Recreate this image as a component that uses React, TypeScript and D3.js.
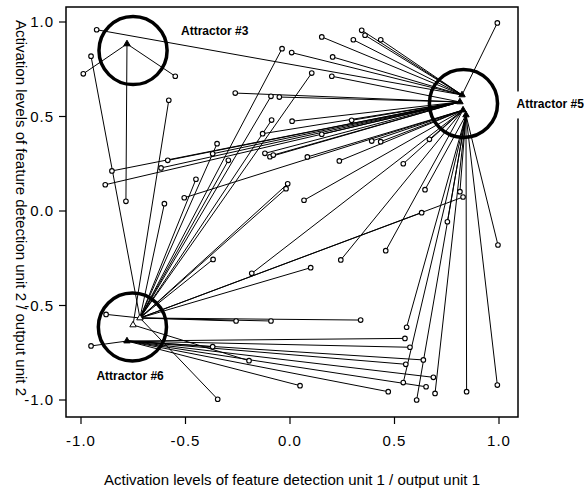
import React from "react";
import * as d3 from "d3";

// endpoints reached by the trajectories (data units)
const endpointNames = ["E3", "E5a", "E5b", "E5c", "E5d", "E6a", "E6b", "E6c"];
const endpointX = [-0.78, 0.823, 0.813, 0.828, 0.842, -0.78, -0.751, -0.718];
const endpointY = [0.884, 0.614, 0.577, 0.534, 0.508, -0.688, -0.603, -0.566];
const endpointFilled = [true, true, true, true, true, true, false, false];

// starting points of the trajectories and the endpoint each one settles on
const startX = [
  -0.989, -0.549, -0.785,
  -0.925, 0.008, 0.152, 0.303, 0.343, 0.359, 0.434, 0.204, 0.992,
  -0.262, -0.051, 0.2, 0.01, 0.295, -0.131, 0.152, -0.37, -0.12, -0.096, -0.08,
  0.083, -0.585, -0.617, -0.852, -0.884, -0.506, 0.067, 0.391, 0.434, 0.236,
  0.542, 0.667, -0.183, 0.243, 0.458, 0.646, 0.813, 0.753, 0.995, 0.558,
  0.542, 0.606, 0.694, 0.845, 0.992,
  -0.952, -0.58, -0.601, -0.038, 0.104, -0.091, -0.088, -0.349, -0.295, -0.45,
  -0.011, -0.019, -0.368, 0.828, 0.63, 0.099,
  -0.258, -0.091, 0.338, 0.55, 0.574, 0.638, 0.554, 0.686, 0.651, 0.47, 0.048,
  -0.196, -0.346, -0.37, -0.88, -0.952,
];
const startY = [
  0.726, 0.713, 0.051,
  0.959, 0.838, 0.921, 0.906, 0.956, 0.93, 0.906, 0.815, 0.995,
  0.624, 0.603, 0.713, 0.475, 0.48, 0.409, 0.406, 0.303, 0.305, 0.287, 0.296,
  0.286, 0.268, 0.228, 0.212, 0.139, 0.07, 0.057, 0.37, 0.367, 0.265,
  0.25, 0.379, -0.33, -0.259, -0.21, 0.113, 0.102, -0.057, -0.18, -0.615,
  -0.908, -1.0, -0.965, -0.956, -0.921,
  0.819, 0.586, 0.039, 0.859, 0.73, 0.607, 0.481, 0.356, 0.268, 0.168,
  0.144, 0.118, -0.256, 0.074, -0.009, -0.3,
  -0.582, -0.582, -0.577, -0.674, -0.721, -0.788, -0.811, -0.88, -0.93, -0.956, -0.924,
  -0.792, -0.996, -0.718, -0.547, -0.714,
];
const startEnd = [
  0, 0, 0,
  1, 1, 1, 1, 1, 1, 1, 1, 1,
  2, 2, 2, 2, 2, 2, 2, 2, 2, 2, 2,
  3, 2, 2, 2, 2, 3, 3, 3, 3, 3,
  3, 3, 3, 3, 3, 4, 4, 4, 4, 4,
  4, 4, 4, 4, 4,
  7, 6, 7, 7, 7, 7, 7, 7, 7, 7,
  7, 7, 7, 7, 7, 7,
  7, 7, 7, 5, 5, 5, 5, 5, 5, 5, 5,
  6, 7, 5, 7, 5,
];

const attractorLabels = ["Attractor #3", "Attractor #5", "Attractor #6"];
const attractorX = [-0.751, 0.83, -0.754];
const attractorY = [0.849, 0.569, -0.614];
const attractorRadius = 0.163;

const ticks = [-1.0, -0.5, 0.0, 0.5, 1.0];
const xTitle = "Activation levels of feature detection unit 1 / output unit 1";
const yTitle = "Activation levels of feature detection unit 2 / output unit 2";

const W = 584;
const H = 491;
const frame = { left: 66, top: 7, right: 518, bottom: 417 };
const labelOffsets = [
  [48, -16],
  [53, 5],
  [-36, 53],
];

export default function App() {
  const x = d3.scaleLinear().domain([-1, 1]).range([81, 499]);
  const y = d3.scaleLinear().domain([-1, 1]).range([400, 22]);
  const tri = d3.symbol().type(d3.symbolTriangle).size(18)() as string;
  const font = "'Liberation Sans', Arial, Helvetica, sans-serif";

  return (
    <svg
      width={W}
      height={H}
      style={{ position: "absolute", left: 0, top: 0, background: "#fff" }}
      fontFamily={font}
    >
      <rect x={0} y={0} width={W} height={H} fill="#fff" />
      {/* trajectories */}
      <g stroke="#000" strokeWidth={1} fill="none">
        {startX.map((sx, i) => (
          <line
            key={i}
            x1={x(sx)}
            y1={y(startY[i])}
            x2={x(endpointX[startEnd[i]])}
            y2={y(endpointY[startEnd[i]])}
          />
        ))}
      </g>
      {/* attractor basins */}
      <g stroke="#000" strokeWidth={3.5} fill="none">
        {attractorX.map((ax, i) => (
          <circle
            key={i}
            cx={x(ax)}
            cy={y(attractorY[i])}
            r={x(attractorRadius) - x(0)}
          />
        ))}
      </g>
      {/* end markers */}
      <g stroke="#000" strokeWidth={1}>
        {endpointNames.map((name, k) => (
          <path
            key={name}
            d={tri}
            fill={endpointFilled[k] ? "#000" : "#fff"}
            transform={`translate(${x(endpointX[k])},${y(endpointY[k])})`}
          />
        ))}
      </g>
      {/* start markers */}
      <g stroke="#000" strokeWidth={1.1} fill="#fff">
        {startX.map((sx, i) => (
          <circle key={i} cx={x(sx)} cy={y(startY[i])} r={2.3} />
        ))}
      </g>
      {/* frame */}
      <rect
        x={frame.left}
        y={frame.top}
        width={frame.right - frame.left}
        height={frame.bottom - frame.top}
        fill="none"
        stroke="#000"
        strokeWidth={1.5}
      />
      {/* x axis */}
      {ticks.map((t) => (
        <g key={"x" + t}>
          <line x1={x(t)} x2={x(t)} y1={frame.bottom} y2={frame.bottom + 7} stroke="#000" strokeWidth={1.2} />
          <text x={x(t)} y={446} textAnchor="middle" fontSize={15} letterSpacing={1}>
            {t.toFixed(1)}
          </text>
        </g>
      ))}
      {/* y axis */}
      {ticks.map((t) => (
        <g key={"y" + t}>
          <line x1={frame.left - 7} x2={frame.left} y1={y(t)} y2={y(t)} stroke="#000" strokeWidth={1.2} />
          <text x={54} y={y(t) + 5} textAnchor="end" fontSize={15} letterSpacing={1}>
            {t.toFixed(1)}
          </text>
        </g>
      ))}
      {/* attractor labels */}
      {attractorLabels.map((lab, i) => {
        const lx = x(attractorX[i]) + labelOffsets[i][0];
        const ly = y(attractorY[i]) + labelOffsets[i][1];
        return (
          <g key={lab}>
            {i === 1 && <rect x={lx - 3} y={ly - 17} width={W - lx + 3} height={27} fill="#fff" />}
            <text x={lx} y={ly} fontSize={12} fontWeight="bold">
              {lab}
            </text>
          </g>
        );
      })}
      <text x={292} y={485} textAnchor="middle" fontSize={15}>
        {xTitle}
      </text>
      <text transform={`translate(16,208) rotate(90)`} textAnchor="middle" fontSize={15}>
        {yTitle}
      </text>
    </svg>
  );
}
